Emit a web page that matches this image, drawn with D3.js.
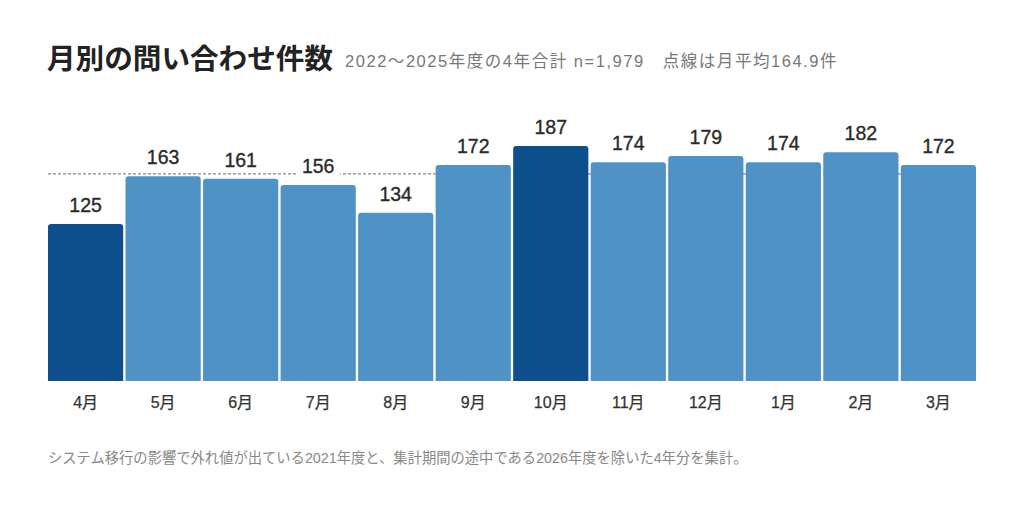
<!DOCTYPE html>
<html><head><meta charset="utf-8">
<script src="https://cdn.jsdelivr.net/npm/d3@7"></script>
<style>
body{margin:0;background:#fff;}
svg{display:block;font-family:"Liberation Sans","Noto Sans CJK JP",sans-serif;}
</style></head>
<body><svg id="c" width="1024" height="512"></svg>
<script>
const months = ["4月","5月","6月","7月","8月","9月","10月","11月","12月","1月","2月","3月"];
const counts = [125,163,161,156,134,172,187,174,179,174,182,172];
const highlighted = ["4月","10月"];
const average = 164.9;
const titleText = "月別の問い合わせ件数";
const subtitleText = "2022〜2025年度の4年合計 n=1,979　点線は月平均164.9件";
const noteText = "システム移行の影響で外れ値が出ている2021年度と、集計期間の途中である2026年度を除いた4年分を集計。";

const svg = d3.select("#c");
const margin = {left:48, right:48};
const W = 1024;
const x = d3.scaleBand().domain(months).range([margin.left, W-margin.right]).paddingInner(0.03).paddingOuter(0);
const y = d3.scaleLinear().domain([0,200]).range([381, 381-251.3]);

svg.append("text").attr("x",47).attr("y",69).attr("font-size",28.6).attr("font-weight",700)
  .attr("font-family","\"Noto Sans CJK JP\",sans-serif").attr("fill","#222").text(titleText);
const sub = svg.append("text").attr("x",345).attr("y",67).attr("font-size",16.5).attr("fill","#777").text(subtitleText);
const subLen = sub.node().getComputedTextLength();
if (subLen > 0) sub.attr("letter-spacing", ((838-345) - subLen) / subtitleText.length);

// average dashed line (behind bars)
svg.append("line").attr("x1",margin.left).attr("x2",W-margin.right)
  .attr("y1",y(average)).attr("y2",y(average))
  .attr("stroke","#888").attr("stroke-width",1.2).attr("stroke-dasharray","3,2");

const r = 3;
svg.append("g").selectAll("path").data(months).join("path")
  .attr("d",(m,i)=>{
    const x0=x(m), w=x.bandwidth(), y0=y(counts[i]), yb=y(0);
    return `M${x0},${yb}V${y0+r}Q${x0},${y0} ${x0+r},${y0}H${x0+w-r}Q${x0+w},${y0} ${x0+w},${y0+r}V${yb}Z`;
  })
  .attr("fill",m=>highlighted.includes(m)?"#0d4f8c":"#4f93c6");

// value labels with white backing
const lg = svg.append("g");
months.forEach((m,i)=>{
  const cx = x(m)+x.bandwidth()/2, ty = y(counts[i])-12;
  lg.append("rect").attr("x",cx-22).attr("y",ty-17).attr("width",44).attr("height",22).attr("fill","#fff");
  lg.append("text").attr("x",cx).attr("y",ty).attr("text-anchor","middle").attr("font-size",19.5)
    .attr("fill","#2a2a2a").attr("stroke","#2a2a2a").attr("stroke-width",0.35).text(counts[i]);
});

// axis
const ax = svg.append("g").attr("transform",`translate(0,${y(0)})`).call(d3.axisBottom(x).tickSize(0).tickPadding(16));
ax.select(".domain").remove();
ax.selectAll("text").attr("font-size",16).attr("fill","#333").attr("stroke","#333").attr("stroke-width",0.25)
  .attr("font-family","\"Liberation Sans\",\"Noto Sans CJK JP\",sans-serif");

svg.append("text").attr("x",48).attr("y",463).attr("font-size",14.3).attr("fill","#888").text(noteText);
</script></body></html>
